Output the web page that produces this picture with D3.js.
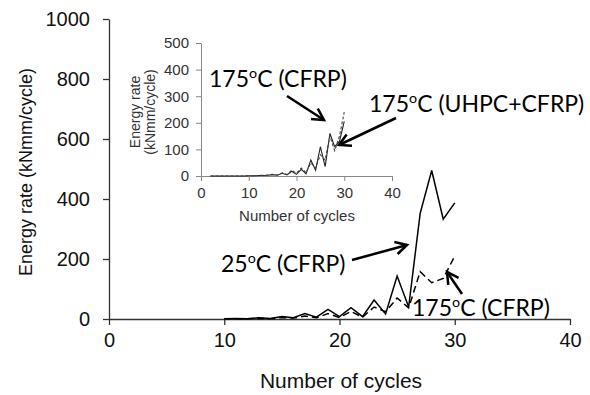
<!DOCTYPE html>
<html>
<head>
<meta charset="utf-8">
<script src="https://cdn.jsdelivr.net/npm/d3@7"></script>
<style>
  body { margin: 0; background: #fff; }
  svg { display: block; }
</style>
</head>
<body>
<div id="chart"></div>
<script>
// main chart data
var cycles = d3.range(10, 31);
var rate25 = [1, 2, 1, 4, 2, 8, 4, 18, 6, 32, 8, 38, 8, 63, 17, 143, 40, 352, 495, 333, 387];
var rate175 = [1, 1, 1, 2, 1, 5, 3, 10, 4, 18, 5, 25, 6, 40, 24, 70, 37, 158, 121, 135, 210];

// inset data
var inCycles = d3.range(2, 31);
var in175 = [0, 0, 0, 0, 0, 0, 0, 0, 1, 1, 2, 2, 3, 5, 3, 10, 4, 18, 6, 25, 8, 60, 22, 110, 35, 160, 110, 130, 205];
var inUhpc = [0, 0, 0, 0, 0, 0, 0, 0, 1, 1, 2, 3, 4, 6, 4, 12, 6, 22, 10, 30, 12, 50, 30, 80, 60, 150, 95, 150, 240];

var xTicks = [0, 10, 20, 30, 40];
var yTicks = [0, 200, 400, 600, 800, 1000];
var inYTicks = [0, 100, 200, 300, 400, 500];

var W = 590, H = 395;
var svg = d3.select("#chart").append("svg").attr("width", W).attr("height", H);

var axisFont = "'Liberation Sans', Arial, sans-serif";
var annoFont = "Lato, 'Open Sans', sans-serif";

// main scales
var x = d3.scaleLinear().domain([0, 40]).range([109, 570]);
var y = d3.scaleLinear().domain([0, 1000]).range([319, 19]);

var gx = svg.append("g")
    .attr("transform", "translate(0," + y(0) + ")")
    .call(d3.axisBottom(x).tickValues(xTicks).tickFormat(d3.format("d")).tickSize(6).tickSizeOuter(0));
gx.selectAll("text").attr("font-size", 20).attr("font-family", axisFont).attr("fill", "#111").attr("dy", "0.95em");

var gy = svg.append("g")
    .attr("transform", "translate(" + x(0) + ",0)")
    .call(d3.axisLeft(y).tickValues(yTicks).tickFormat(d3.format("d")).tickSize(6).tickSizeOuter(0));
gy.selectAll("text").attr("font-size", 20).attr("font-family", axisFont).attr("fill", "#111").attr("x", -19);

svg.selectAll(".domain, .tick line").attr("stroke", "#333").attr("stroke-width", 1.3);

svg.append("text")
    .attr("x", 341).attr("y", 388)
    .attr("text-anchor", "middle")
    .style("font", "21px " + axisFont)
    .attr("fill", "#111")
    .text("Number of cycles");

svg.append("text")
    .attr("transform", "translate(32,172) rotate(-90)")
    .attr("text-anchor", "middle")
    .style("font", "18px " + axisFont)
    .attr("fill", "#111")
    .text("Energy rate (kNmm/cycle)");

var line = d3.line()
    .x(function(d, i) { return x(cycles[i]); })
    .y(function(d) { return y(d); });

svg.append("path").datum(rate25)
    .attr("d", line).attr("fill", "none")
    .attr("stroke", "#000").attr("stroke-width", 1.5);

svg.append("path").datum(rate175)
    .attr("d", line).attr("fill", "none")
    .attr("stroke", "#000").attr("stroke-width", 1.5)
    .attr("stroke-dasharray", "7,4");

// inset
var ix = d3.scaleLinear().domain([0, 40]).range([201, 392]);
var iy = d3.scaleLinear().domain([0, 500]).range([176, 43]);

var inset = svg.append("g").attr("class", "inset");

var igx = inset.append("g")
    .attr("transform", "translate(0," + iy(0) + ")")
    .call(d3.axisBottom(ix).tickValues(xTicks).tickSize(5).tickSizeOuter(0));
igx.selectAll("text").attr("font-size", 15).attr("font-family", axisFont).attr("fill", "#333").attr("dy", "0.9em");

var igy = inset.append("g")
    .attr("transform", "translate(" + ix(0) + ",0)")
    .call(d3.axisLeft(iy).tickValues(inYTicks).tickSize(5).tickSizeOuter(0));
igy.selectAll("text").attr("font-size", 15).attr("font-family", axisFont).attr("fill", "#333").attr("x", -12);

inset.selectAll(".domain, .tick line").attr("stroke", "#888").attr("stroke-width", 1);

inset.append("text")
    .attr("x", 297).attr("y", 221)
    .attr("text-anchor", "middle")
    .style("font", "15px " + axisFont)
    .attr("fill", "#333")
    .text("Number of cycles");

var ylab = inset.append("text")
    .attr("transform", "translate(140,112) rotate(-90)")
    .attr("text-anchor", "middle")
    .style("font", "14px " + axisFont)
    .attr("fill", "#333");
ylab.append("tspan").attr("x", 0).attr("dy", 0).text("Energy rate");
ylab.append("tspan").attr("x", 0).attr("dy", "1.05em").text("(kNmm/cycle)");

var iline = d3.line()
    .x(function(d, i) { return ix(inCycles[i]); })
    .y(function(d) { return iy(d); });

inset.append("path").datum(in175)
    .attr("d", iline).attr("fill", "none")
    .attr("stroke", "#222").attr("stroke-width", 1.1);

inset.append("path").datum(inUhpc)
    .attr("d", iline).attr("fill", "none")
    .attr("stroke", "#444").attr("stroke-width", 1.1)
    .attr("stroke-dasharray", "3,2");

// annotations
function label(px, py, size, num, rest) {
  var t = svg.append("text")
      .attr("x", px).attr("y", py)
      .style("font-family", annoFont)
      .attr("font-size", size)
      .attr("fill", "#000");
  t.append("tspan").text(num);
  t.append("tspan").attr("font-size", size * 0.62).attr("dy", -size * 0.38).text("o");
  t.append("tspan").attr("dy", size * 0.38).text(rest);
}

function arrow(x1, y1, x2, y2) {
  svg.append("line")
      .attr("x1", x1).attr("y1", y1).attr("x2", x2).attr("y2", y2)
      .attr("stroke", "#000").attr("stroke-width", 2.5);
  var a = Math.atan2(y2 - y1, x2 - x1), L = 13, s = 0.5;
  svg.append("path")
      .attr("d", "M" + (x2 - L * Math.cos(a - s)) + "," + (y2 - L * Math.sin(a - s)) +
                 "L" + x2 + "," + y2 +
                 "L" + (x2 - L * Math.cos(a + s)) + "," + (y2 - L * Math.sin(a + s)))
      .attr("fill", "none").attr("stroke", "#000").attr("stroke-width", 2.5);
}

label(221, 272, 23, "25", "C (CFRP)");
arrow(352, 260, 407, 245);

label(412, 316, 23, "175", "C (CFRP)");
arrow(462, 294, 447, 272);

label(209, 87, 23, "175", "C (CFRP)");
arrow(287, 96, 324, 120);

label(369, 112, 23, "175", "C (UHPC+CFRP)");
arrow(396, 118, 339, 145);
</script>
</body>
</html>
